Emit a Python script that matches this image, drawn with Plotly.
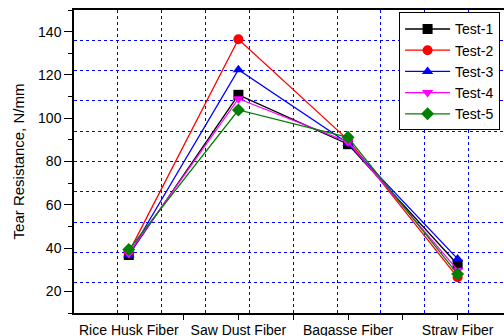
import plotly.graph_objects as go

categories = ["Rice Husk Fiber", "Saw Dust Fiber", "Bagasse Fiber", "Straw Fiber"]
test1 = [36.8, 110.8, 88.0, 32.4]
test2 = [38.0, 136.5, 90.0, 26.5]
test3 = [36.8, 122.4, 88.4, 35.0]
test4 = [37.5, 109.0, 89.0, 29.8]
test5 = [39.3, 103.8, 91.2, 28.0]
y_ticks = [20, 40, 60, 80, 100, 120, 140]

series = [
    ("Test-1", test1, "black", "square"),
    ("Test-2", test2, "red", "circle"),
    ("Test-3", test3, "blue", "triangle-up"),
    ("Test-4", test4, "magenta", "triangle-down"),
    ("Test-5", test5, "green", "diamond"),
]

xpos = list(range(len(categories)))
fig = go.Figure()

# invisible trace on grid overlay axes
fig.add_trace(go.Scatter(x=[0], y=[20], xaxis="x2", yaxis="y2", mode="markers",
                         marker=dict(opacity=0), showlegend=False, hoverinfo="skip"))

for name, vals, color, sym in series:
    fig.add_trace(go.Scatter(
        x=xpos, y=vals, name=name, mode="lines+markers",
        line=dict(color=color, width=1.3),
        marker=dict(symbol=sym, size=10, color=color),
    ))

xr = [-0.5, 3.423]
yr = [10, 150]
font = dict(family="Liberation Sans, Arial, sans-serif", size=14, color="black")

fig.update_layout(
    template="none",
    width=504, height=336,
    margin=dict(l=74, r=0, t=10, b=23, autoexpand=False),
    paper_bgcolor="white", plot_bgcolor="white",
    font=font,
    showlegend=True,
    legend=dict(x=0.756, y=0.992, xanchor="left", yanchor="top",
                bgcolor="white", bordercolor="black", borderwidth=1,
                font=dict(family="Liberation Sans, Arial, sans-serif", size=14, color="black"),
                tracegroupgap=0, itemwidth=45),
    xaxis=dict(range=xr, tickmode="array", tickvals=xpos, ticktext=categories,
               automargin=False,
               showgrid=False, zeroline=False, showline=True, linecolor="black",
               linewidth=1.5, mirror=True, ticks="outside", ticklen=5, tickcolor="black",
               minor=dict(tickmode="array", tickvals=[0.5, 1.5, 2.5], ticks="outside",
                          ticklen=5, tickcolor="black", showgrid=False),
               tickfont=dict(size=14), ticklabelstandoff=-2),
    yaxis=dict(range=yr, tickmode="array", tickvals=y_ticks, automargin=False,
               showgrid=False, zeroline=False, showline=True, linecolor="black",
               linewidth=1.5, ticks="outside", ticklen=8, tickcolor="black",
               minor=dict(dtick=10, tick0=10, ticks="outside", ticklen=4, tickcolor="black",
                          showgrid=False),
               title=dict(text="Tear Resistance, N/mm", font=dict(size=15), standoff=10),
               tickfont=dict(size=14)),
    xaxis2=dict(range=xr, overlaying="x", tick0=-0.1, dtick=0.4, showgrid=True,
                automargin=False,
                gridcolor="blue", griddash="dot", gridwidth=1, showticklabels=False,
                ticks="", zeroline=False, showline=False),
    yaxis2=dict(range=yr, overlaying="y", tick0=10, dtick=14, showgrid=True,
                automargin=False,
                gridcolor="blue", griddash="dot", gridwidth=1, showticklabels=False,
                ticks="", zeroline=False, showline=False),
)

fig.write_html("out.html", config={"displayModeBar": False},
               post_script="document.body.style.margin='0';document.body.style.overflow='hidden';")
